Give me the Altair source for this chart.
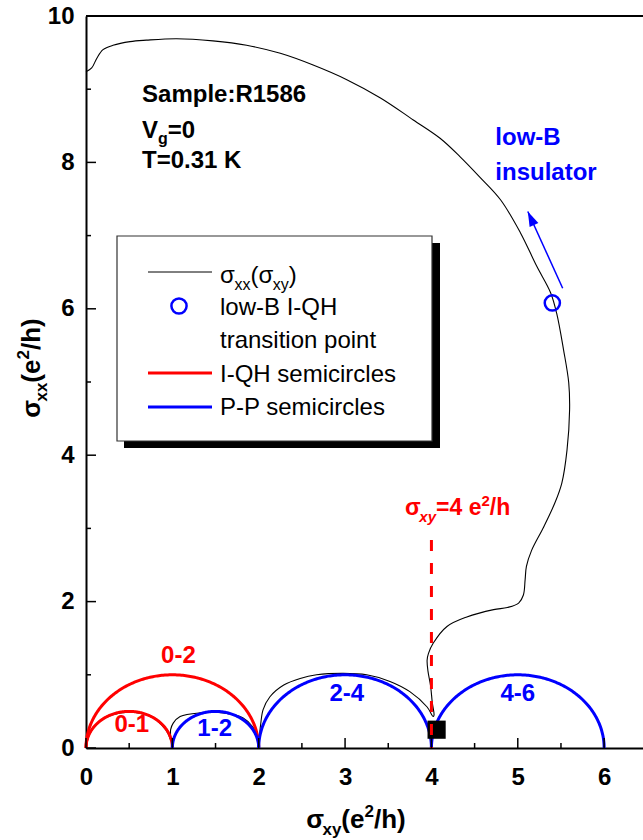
import altair as alt
import numpy as np
import pandas as pd

FONT = "Liberation Sans"
RED = "#ff0000"
BLUE = "#0000ff"

# plot area size (px) and axis ranges
W, H = 557, 732
X_DOMAIN = [0, 6.45]
Y_DOMAIN = [0, 10]

X_TICKS = [0, 1, 2, 3, 4, 5, 6]
X_MINOR = [0.5, 1.5, 2.5, 3.5, 4.5, 5.5]
Y_TICKS = [0, 2, 4, 6, 8, 10]
Y_MINOR = [1, 3, 5, 7, 9]

# measured sweep sigma_xx(sigma_xy), in units of e^2/h, in field order
SIGMA_XY = [0.0, 0.066, 0.124, 0.197, 0.313, 0.51, 0.70, 1.05, 1.47, 1.86,
            2.25, 2.63, 3.02, 3.41, 3.79, 4.10, 4.33, 4.56, 4.80, 5.03,
            5.22, 5.38, 5.45, 5.53, 5.59, 5.60, 5.57, 5.51, 5.43, 5.30,
            5.16, 5.10, 5.085, 5.065, 5.01, 4.88, 4.72, 4.41, 4.18, 4.02,
            3.965, 3.95, 3.96, 3.99, 4.01, 4.03, 4.02, 3.95, 3.75, 3.52,
            3.25, 2.98, 2.67, 2.48, 2.29, 2.13, 2.05, 2.02, 2.0, 1.96,
            1.93, 1.82, 1.59, 1.32, 1.09, 1.01, 0.98, 0.98, 0.95, 0.88,
            0.75, 0.5, 0.3, 0.15, 0.05, 0.0]
SIGMA_XX = [9.24, 9.29, 9.42, 9.54, 9.60, 9.65, 9.67, 9.69, 9.66, 9.60,
            9.49, 9.33, 9.13, 8.88, 8.58, 8.33, 8.08, 7.80, 7.49, 7.04,
            6.58, 6.22, 5.94, 5.44, 4.99, 4.62, 4.07, 3.62, 3.35, 3.02,
            2.70, 2.48, 2.30, 2.09, 1.98, 1.92, 1.89, 1.79, 1.66, 1.43,
            1.29, 1.20, 1.05, 0.85, 0.62, 0.45, 0.43, 0.56, 0.77, 0.91,
            1.00, 1.02, 1.00, 0.95, 0.86, 0.70, 0.52, 0.30, 0.15, 0.22,
            0.29, 0.41, 0.48, 0.48, 0.43, 0.34, 0.25, 0.11, 0.20, 0.31,
            0.43, 0.49, 0.45, 0.35, 0.21, 0.0]

# semicircles between quantized sigma_xy values
SEMI_LEFT = [0, 0, 1, 2, 4]
SEMI_RIGHT = [1, 2, 2, 4, 6]
SEMI_NAME = ["0-1", "0-2", "1-2", "2-4", "4-6"]
SEMI_KIND = ["I-QH", "I-QH", "P-P", "P-P", "P-P"]
SEMI_LABEL_X = [0.53, 1.07, 1.49, 3.02, 5.0]
SEMI_LABEL_Y = [0.31, 1.26, 0.26, 0.74, 0.74]

# low-B I-QH transition point, QH state marker, sigma_xy = 4 guide
TRANSITION_XY, TRANSITION_XX = [5.40], [6.08]
QH_XY, QH_XX = [4.06], [0.25]
GUIDE_XY, GUIDE_TOP = 4.0, 2.84
ARROW_TAIL = (5.52, 6.28)
ARROW_HEAD = (5.116, 7.33)

XS = alt.Scale(domain=X_DOMAIN, nice=False, zero=False)
YS = alt.Scale(domain=Y_DOMAIN, nice=False, zero=False)
XAXIS = alt.Axis(values=X_TICKS, format="d", title=None, ticks=False, tickSize=0,
                 labelPadding=17, labelFont=FONT, labelFontSize=24,
                 labelFontWeight="bold", labelColor="black", labelFlush=False,
                 labelOverlap=False, domainColor="black", domainWidth=2, grid=False)
YAXIS = alt.Axis(values=Y_TICKS, format="d", title=None, ticks=False, tickSize=0,
                 labelPadding=12, labelFont=FONT, labelFontSize=24,
                 labelFontWeight="bold", labelColor="black", labelFlush=False,
                 labelOverlap=False, domainColor="black", domainWidth=2, grid=False)


def X(f):
    return alt.X(f, type="quantitative", scale=XS, axis=XAXIS)


def Y(f):
    return alt.Y(f, type="quantitative", scale=YS, axis=YAXIS)


def X2(f):
    return alt.X2(f)


def Y2(f):
    return alt.Y2(f)


ONE = pd.DataFrame({"k": [0]})

# approximate advance widths (per 1000 em) for rich-text layout
REG = {" ": 278, "(": 333, ")": 333, "-": 333, ".": 278, "/": 278, ":": 278,
       "=": 584, "σ": 600, "x": 500, "y": 500, "e": 556, "h": 556, "g": 556,
       "V": 667}
BOLD = {" ": 278, "(": 333, ")": 333, "-": 333, ".": 278, "/": 278, ":": 333,
        "=": 584, "σ": 620, "x": 556, "y": 556, "e": 556, "h": 611, "g": 611,
        "V": 667}


def text_width(s, size, weight):
    table = BOLD if weight == "bold" else REG
    return sum(table.get(c, 556) for c in s) * size / 1000.0


def text_layer(s, x, y, size, color, weight="bold", style="normal", align="left",
               baseline="alphabetic", dx=0.0, dy=0.0, angle=0, pixel=False):
    mark = dict(text=s, font=FONT, fontSize=size, fontWeight=weight,
                fontStyle=style, color=color, align=align, baseline=baseline,
                dx=dx, dy=dy, angle=angle)
    if pixel:
        return alt.Chart(ONE).mark_text(**mark).encode(x=alt.value(x), y=alt.value(y))
    df = pd.DataFrame({"x": [x], "y": [y]})
    return alt.Chart(df).mark_text(**mark).encode(x=X("x"), y=Y("y"))


def rich(pieces, x, y, size, color, weight="bold", angle=0, center=False, pixel=False):
    """pieces: (text, kind[, italic]) with kind in 'n', 'sub', 'sup'."""
    small = round(size * 0.66)
    sizes = [size if p[1] == "n" else small for p in pieces]
    widths = [text_width(p[0], s, weight) for p, s in zip(pieces, sizes)]
    off = -sum(widths) / 2 if center else 0.0
    out = []
    for p, s, w in zip(pieces, sizes, widths):
        dy = 0.0 if p[1] == "n" else (0.28 * size if p[1] == "sub" else -0.42 * size)
        style = "italic" if len(p) > 2 and p[2] else "normal"
        out.append(text_layer(p[0], x, y, s, color, weight, style, dx=off, dy=dy,
                              angle=angle, pixel=pixel))
        off += w
    return out


layers = []

# sweep curve
curve = pd.DataFrame({"x": SIGMA_XY, "y": SIGMA_XX, "i": range(len(SIGMA_XY))})
layers.append(alt.Chart(curve).mark_line(color="black", strokeWidth=1.1,
                                         interpolate="catmull-rom")
              .encode(x=X("x"), y=Y("y"), order=alt.Order("i:Q")))

# semicircles
rows = []
theta = np.linspace(np.pi, 0, 181)
for a, b, name, kind in zip(SEMI_LEFT, SEMI_RIGHT, SEMI_NAME, SEMI_KIND):
    c, r = (a + b) / 2, (b - a) / 2
    for j, t in enumerate(theta):
        rows.append({"x": c + r * np.cos(t), "y": r * np.sin(t), "i": j,
                     "name": name, "kind": kind})
semi = pd.DataFrame(rows)
layers.append(alt.Chart(semi).mark_line(strokeWidth=3, clip=False)
              .encode(x=X("x"), y=Y("y"), order=alt.Order("i:Q"), detail="name:N",
                      color=alt.Color("kind:N", scale=alt.Scale(domain=["I-QH", "P-P"],
                                                                range=[RED, BLUE]),
                                      legend=None)))

# QH marker and sigma_xy = 4 guide
layers.append(alt.Chart(pd.DataFrame({"x": QH_XY, "y": QH_XX}))
              .mark_square(size=330, color="black", opacity=1)
              .encode(x=X("x"), y=Y("y")))
layers.append(alt.Chart(pd.DataFrame({"x": [GUIDE_XY], "y": [GUIDE_TOP], "y2": [0.0]}))
              .mark_rule(color=RED, strokeWidth=3, strokeDash=[11, 12])
              .encode(x=X("x"), y=Y("y"), y2=Y2("y2")))

# transition point and arrow towards the insulator
layers.append(alt.Chart(pd.DataFrame({"x": TRANSITION_XY, "y": TRANSITION_XX}))
              .mark_point(shape="circle", size=230, filled=False, color=BLUE,
                          strokeWidth=2.5, opacity=1)
              .encode(x=X("x"), y=Y("y")))
arrow = pd.DataFrame({"x": [ARROW_TAIL[0]], "y": [ARROW_TAIL[1]],
                      "x2": [ARROW_HEAD[0]], "y2": [ARROW_HEAD[1]]})
layers.append(alt.Chart(arrow).mark_rule(color=BLUE, strokeWidth=1.5)
              .encode(x=X("x"), y=Y("y"), x2=X2("x2"), y2=Y2("y2")))
px_dx = (ARROW_HEAD[0] - ARROW_TAIL[0]) * W / (X_DOMAIN[1] - X_DOMAIN[0])
px_dy = -(ARROW_HEAD[1] - ARROW_TAIL[1]) * H / (Y_DOMAIN[1] - Y_DOMAIN[0])
head_angle = (np.degrees(np.arctan2(px_dx, -px_dy)) + 360) % 360
layers.append(alt.Chart(pd.DataFrame({"x": [ARROW_HEAD[0]], "y": [ARROW_HEAD[1]]}))
              .mark_point(shape="M0,0L0.32,1L-0.32,1Z", size=900, filled=True,
                          color=BLUE, opacity=1, angle=float(head_angle))
              .encode(x=X("x"), y=Y("y")))

# inward ticks and top frame line
ax = pd.DataFrame({"x": X_TICKS})
axm = pd.DataFrame({"x": X_MINOR})
ay = pd.DataFrame({"y": Y_TICKS})
aym = pd.DataFrame({"y": Y_MINOR})
layers.append(alt.Chart(ax).mark_rule(color="black", strokeWidth=1.5)
              .encode(x=X("x"), y=alt.value(H), y2=alt.value(H - 10)))
layers.append(alt.Chart(axm).mark_rule(color="black", strokeWidth=1.5)
              .encode(x=X("x"), y=alt.value(H), y2=alt.value(H - 5)))
layers.append(alt.Chart(ay).mark_rule(color="black", strokeWidth=1.5)
              .encode(y=Y("y"), x=alt.value(0), x2=alt.value(10)))
layers.append(alt.Chart(aym).mark_rule(color="black", strokeWidth=1.5)
              .encode(y=Y("y"), x=alt.value(0), x2=alt.value(5)))
layers.append(alt.Chart(ONE).mark_rule(color="black", strokeWidth=2)
              .encode(x=alt.value(0), x2=alt.value(W), y=alt.value(0)))

# semicircle labels
for name, kind, lx, ly in zip(SEMI_NAME, SEMI_KIND, SEMI_LABEL_X, SEMI_LABEL_Y):
    layers.append(text_layer(name, lx, ly, 24, RED if kind == "I-QH" else BLUE,
                             align="center", baseline="middle"))

# sample information
layers.append(text_layer("Sample:R1586", 0.649, 8.83, 24, "black"))
layers += rich([("V", "n"), ("g", "sub"), ("=0", "n")], 0.649, 8.34, 24, "black")
layers.append(text_layer("T=0.31 K", 0.649, 7.92, 24, "black"))

# annotations
layers.append(text_layer("low-B", 4.74, 8.24, 24, BLUE))
layers.append(text_layer("insulator", 4.74, 7.76, 24, BLUE))
layers += rich([("σ", "n"), ("xy", "sub", True), ("=4 e", "n"), ("2", "sup"),
                ("/h", "n")], 3.695, 3.18, 23, RED)

# axis titles
layers += rich([("σ", "n"), ("xy", "sub"), ("(e", "n"), ("2", "sup"), ("/h)", "n")],
               270, 812, 26, "black", center=True, pixel=True)
layers += rich([("σ", "n"), ("xx", "sub"), ("(e", "n"), ("2", "sup"), ("/h)", "n")],
               -46, 352, 26, "black", angle=270, center=True, pixel=True)

# legend box with drop shadow
layers.append(alt.Chart(ONE).mark_rect(color="black")
              .encode(x=alt.value(38), x2=alt.value(354), y=alt.value(227), y2=alt.value(432)))
layers.append(alt.Chart(ONE).mark_rect(fill="white", stroke="#333333", strokeWidth=1.2)
              .encode(x=alt.value(31), x2=alt.value(346), y=alt.value(220), y2=alt.value(425)))
layers.append(alt.Chart(ONE).mark_rule(color="black", strokeWidth=1)
              .encode(x=alt.value(62), x2=alt.value(126), y=alt.value(256)))
layers.append(alt.Chart(ONE).mark_point(shape="circle", size=230, filled=False,
                                        color=BLUE, strokeWidth=2.5, opacity=1)
              .encode(x=alt.value(93), y=alt.value(290)))
layers.append(alt.Chart(ONE).mark_rule(color=RED, strokeWidth=3)
              .encode(x=alt.value(62), x2=alt.value(126), y=alt.value(357)))
layers.append(alt.Chart(ONE).mark_rule(color=BLUE, strokeWidth=3)
              .encode(x=alt.value(62), x2=alt.value(126), y=alt.value(391)))
layers += rich([("σ", "n"), ("xx", "sub"), ("(σ", "n"), ("xy", "sub"), (")", "n")],
               134, 267, 24, "black", weight="normal", pixel=True)
layers.append(text_layer("low-B I-QH", 134, 299, 24, "black", weight="normal", pixel=True))
layers.append(text_layer("transition point", 134, 332, 24, "black", weight="normal", pixel=True))
layers.append(text_layer("I-QH semicircles", 134, 366, 24, "black", weight="normal", pixel=True))
layers.append(text_layer("P-P semicircles", 134, 399, 24, "black", weight="normal", pixel=True))

chart = (alt.layer(*layers)
         .properties(width=W, height=H, background="white",
                     padding={"left": 86, "top": 16, "right": 0, "bottom": 92},
                     autosize=alt.AutoSizeParams(type="none"))
         .configure_view(stroke=None))

chart.save("out.html", embed_options={"renderer": "svg", "actions": False})
